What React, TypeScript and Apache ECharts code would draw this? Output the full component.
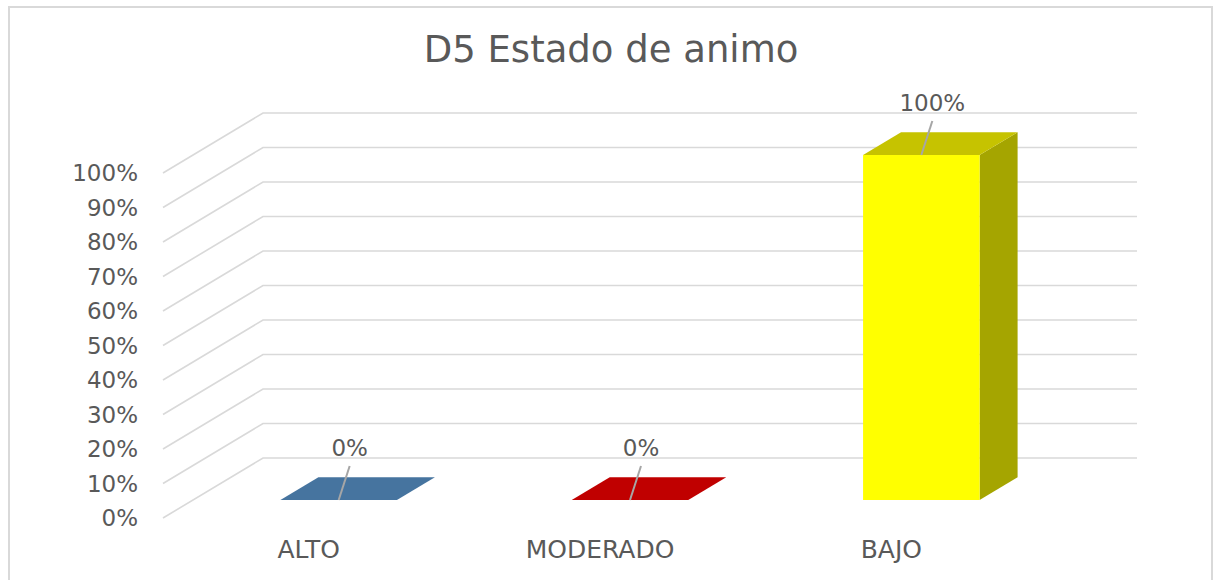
import React, { useEffect, useRef } from "react";
import * as echarts from "echarts";

const TITLE = "D5 Estado de animo";
const categories = ["ALTO", "MODERADO", "BAJO"];
const values = [0, 0, 1];
const frontColors = ["#46749F", "#C00000", "#FFFF00"];
const topColors = ["#46749F", "#C00000", "#C6C300"];
const sideColors = ["#35577A", "#900000", "#A5A500"];
const yTicks = [0, 0.1, 0.2, 0.3, 0.4, 0.5, 0.6, 0.7, 0.8, 0.9, 1];

const DX = 100;
const DY = -60;
const BAR_FRONT = 0.3;
const BAR_BACK = 0.68;
const BAR_W = 0.4;
const TEXT = "#595959";
const GRIDC = "#d9d9d9";
const FONT = "DejaVu Sans";

const pct = (v: number) => `${Math.round(v * 100)}%`;

export default function App() {
  const ref = useRef<HTMLDivElement>(null);
  useEffect(() => {
    if (!ref.current) return;
    const chart = echarts.init(ref.current, undefined, { renderer: "svg" });
    const option: any = {
      animation: false,
      backgroundColor: "#ffffff",
      title: {
        text: TITLE,
        left: 611,
        textAlign: "center",
        top: 31,
        padding: 0,
        textStyle: { fontFamily: FONT, fontSize: 37, fontWeight: "normal", color: TEXT },
      },
      graphic: [
        {
          type: "rect",
          shape: { x: 9, y: 7, width: 1203, height: 620 },
          style: { fill: "none", stroke: GRIDC, lineWidth: 2 },
          silent: true,
        },
      ],
      grid: { left: 163, right: 177, top: 173, bottom: 62 },
      xAxis: {
        type: "category",
        data: categories,
        axisLine: { show: false },
        axisTick: { show: false },
        axisLabel: { color: TEXT, fontFamily: FONT, fontSize: 25, margin: 19 },
      },
      yAxis: {
        type: "value",
        min: 0,
        max: 1,
        interval: 0.1,
        axisLine: { show: false },
        axisTick: { show: false },
        splitLine: { show: false },
        axisLabel: { color: TEXT, fontFamily: FONT, fontSize: 23, margin: 25, formatter: (v: number) => pct(v) },
      },
      series: [
        {
          type: "custom",
          z: 1,
          silent: true,
          data: yTicks.map((t) => [0, t]),
          encode: { x: 0, y: 1 },
          renderItem: (params: any, api: any) => {
            const v = api.value(1);
            const p = api.coord([0, v]);
            const band = api.size([1, 0])[0];
            const left = p[0] - band / 2;
            const right = api.coord([categories.length - 1, v])[0] + band / 2;
            return {
              type: "polyline",
              shape: {
                points: [
                  [left, p[1]],
                  [left + DX, p[1] + DY],
                  [right + DX, p[1] + DY],
                ],
              },
              style: { stroke: GRIDC, lineWidth: 1.6, fill: "none" },
            };
          },
        },
        {
          type: "custom",
          z: 3,
          data: values.map((v, i) => [i, v]),
          encode: { x: 0, y: 1 },
          renderItem: (params: any, api: any) => {
            const i = params.dataIndex;
            const cat = api.value(0);
            const v = api.value(1);
            const base = api.coord([cat, 0]);
            const top = api.coord([cat, v]);
            const band = api.size([1, 0])[0];
            const w = band * BAR_W;
            const l = base[0] - w / 2;
            const r = base[0] + w / 2;
            const fx = BAR_FRONT * DX, fy = BAR_FRONT * DY;
            const bx = BAR_BACK * DX, by = BAR_BACK * DY;
            const children: any[] = [];
            const h = base[1] - top[1];
            if (h > 0.5) {
              children.push({
                type: "polygon",
                shape: { points: [[r + fx, top[1] + fy], [r + bx, top[1] + by], [r + bx, base[1] + by], [r + fx, base[1] + fy]] },
                style: { fill: sideColors[i] },
              });
              children.push({
                type: "rect",
                shape: { x: l + fx, y: top[1] + fy, width: w, height: h },
                style: { fill: frontColors[i] },
              });
            }
            children.push({
              type: "polygon",
              shape: { points: [[l + fx, top[1] + fy], [r + fx, top[1] + fy], [r + bx, top[1] + by], [l + bx, top[1] + by]] },
              style: { fill: h > 0.5 ? topColors[i] : frontColors[i] },
            });
            const cx = base[0] + fx;
            const ty = top[1] + fy;
            children.push({
              type: "line",
              shape: { x1: cx, y1: ty, x2: cx + 11, y2: ty - 34 },
              style: { stroke: "#a6a6a6", lineWidth: 2 },
            });
            children.push({
              type: "text",
              style: {
                text: pct(v),
                x: cx + 11,
                y: ty - 52,
                align: "center",
                verticalAlign: "middle",
                fill: TEXT,
                font: `23px "${FONT}"`,
              },
            });
            return { type: "group", children };
          },
        },
      ],
    };
    chart.setOption(option);
    return () => chart.dispose();
  }, []);
  return <div ref={ref} style={{ position: "absolute", left: 0, top: 0, width: 1214, height: 580 }} />;
}
